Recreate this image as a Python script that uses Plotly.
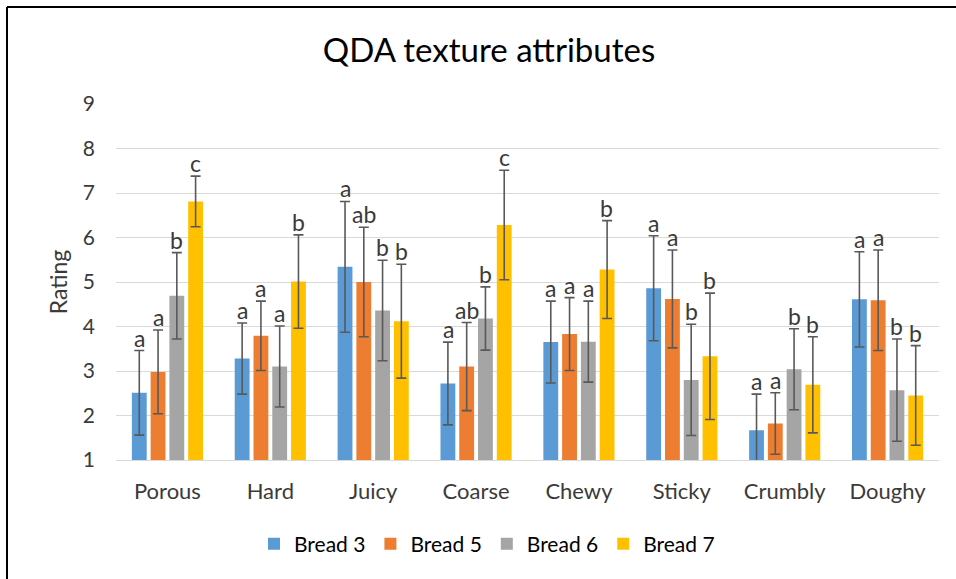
import plotly.graph_objects as go

# QDA texture attributes - mean ratings with SD error bars and letter groupings
attributes = ["Porous", "Hard", "Juicy", "Coarse", "Chewy", "Sticky", "Crumbly", "Doughy"]
series_names = ["Bread 3", "Bread 5", "Bread 6", "Bread 7"]
colors = ["#5B9BD5", "#ED7D31", "#A5A5A5", "#FFC000"]

bread3_mean = [2.51, 3.28, 5.34, 2.72, 3.65, 4.86, 1.67, 4.61]
bread5_mean = [2.98, 3.79, 5.00, 3.10, 3.83, 4.62, 1.82, 4.59]
bread6_mean = [4.69, 3.10, 4.36, 4.18, 3.66, 2.80, 3.04, 2.57]
bread7_mean = [6.81, 5.01, 4.12, 6.28, 5.28, 3.33, 2.69, 2.45]

bread3_sd = [0.95, 0.80, 1.47, 0.93, 0.92, 1.18, 0.81, 1.07]
bread5_sd = [0.94, 0.78, 1.23, 0.99, 0.82, 1.10, 0.69, 1.13]
bread6_sd = [0.97, 0.91, 1.13, 0.71, 0.91, 1.25, 0.91, 1.15]
bread7_sd = [0.57, 1.05, 1.28, 1.23, 1.10, 1.42, 1.08, 1.12]

bread3_letters = ["a", "a", "a", "a", "a", "a", "a", "a"]
bread5_letters = ["a", "a", "ab", "ab", "a", "a", "a", "a"]
bread6_letters = ["b", "a", "b", "b", "a", "b", "b", "b"]
bread7_letters = ["c", "b", "b", "c", "b", "b", "b", "b"]

means = [bread3_mean, bread5_mean, bread6_mean, bread7_mean]
sds = [bread3_sd, bread5_sd, bread6_sd, bread7_sd]
letters = [bread3_letters, bread5_letters, bread6_letters, bread7_letters]

FONT = "Lato"
TEXT = "#3A3A3A"

fig = go.Figure()
for name, color, m, s in zip(series_names, colors, means, sds):
    fig.add_trace(go.Bar(
        x=attributes, y=m, name=name,
        marker=dict(color=color, line=dict(width=0)),
        error_y=dict(type="data", array=s, visible=True,
                     color="#595959", thickness=1.6, width=5),
    ))

# letter groupings above each error bar
step = 18.7
for i, (m, s, lt) in enumerate(zip(means, sds, letters)):
    for j, attr in enumerate(attributes):
        fig.add_annotation(
            x=attr, y=m[j] + s[j], xref="x", yref="y",
            text=lt[j], showarrow=False, yanchor="bottom",
            xshift=(i - 1.5) * step, yshift=-3,
            font=dict(family=FONT, size=23, color=TEXT),
        )

# chart border (left and top edges visible)
bx = (7 - 116) / 823
by = (460 - 7) / 356
fig.add_shape(type="line", xref="paper", yref="paper", x0=bx, x1=bx, y0=-0.5, y1=by,
              line=dict(color="black", width=2))
fig.add_shape(type="line", xref="paper", yref="paper", x0=bx, x1=1.2, y0=by, y1=by,
              line=dict(color="black", width=2))

fig.update_layout(
    width=956, height=579,
    margin=dict(l=116, r=17, t=104, b=119),
    paper_bgcolor="white", plot_bgcolor="white",
    barmode="group", bargap=0.27, bargroupgap=0.21,
    font=dict(family=FONT, color=TEXT),
    title=dict(text="QDA texture attributes", x=(489 - 116) / 823, xref="paper", xanchor="center",
               y=1 - 50 / 579, yanchor="middle",
               font=dict(family=FONT, size=33, color="black")),
    xaxis=dict(showgrid=False, showline=True, linecolor="#D9D9D9", linewidth=1,
               tickfont=dict(family=FONT, size=22, color=TEXT),
               ticklabelstandoff=12, fixedrange=True),
    yaxis=dict(range=[1, 9], dtick=1, tick0=1, showgrid=True, gridcolor="#D9D9D9",
               gridwidth=1, zeroline=False,
               tickfont=dict(family=FONT, size=21, color=TEXT),
               ticklabelstandoff=20,
               title=dict(text="Rating", font=dict(family=FONT, size=23, color=TEXT),
                          standoff=8)),
    legend=dict(orientation="h", x=(487 - 116) / 823, xanchor="center",
                y=(460 - 544) / 356, yanchor="middle",
                font=dict(family=FONT, size=21, color="black"),
                itemwidth=30, traceorder="normal"),
)

fig.write_html("out.html", config={"displayModeBar": False},
               post_script="document.body.style.margin='0';")
